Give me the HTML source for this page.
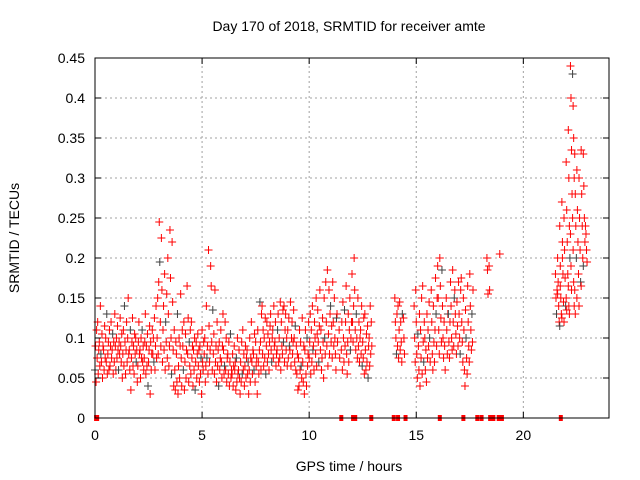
<!DOCTYPE html>
<html><head><meta charset="utf-8"><style>
body{margin:0;background:#fff}
svg{display:block;font-family:"Liberation Sans",sans-serif}
</style></head><body>
<svg id="chart" width="640" height="480" viewBox="0 0 640 480">
<text x="349" y="31" font-size="14" text-anchor="middle">Day 170 of 2018, SRMTID for receiver amte</text>
<text transform="translate(19,238) rotate(-90)" font-size="14" text-anchor="middle">SRMTID / TECUs</text>
<text x="349" y="471" font-size="14" text-anchor="middle">GPS time / hours</text>
<g id="grid"></g><g id="pts"></g>
<rect x="95" y="58" width="514" height="360" fill="none" stroke="#000" stroke-width="1"/>
<g id="ticks"></g>
</svg>
<script>
const xTicks=[0,5,10,15,20];
const yTicks=[0,0.05,0.1,0.15,0.2,0.25,0.3,0.35,0.4,0.45];
const segAStart=0.0;
const segA=[[60,90,45,110],[75,120,55,85],[95,65,140,80],[70,105,50,90],[85,60,115,75],[100,70,130,55],[80,95,60,110],[65,90,120,75],[85,105,55,95],[70,130,90,60],
[100,75,115,85],[60,95,80,125],[90,70,105,50],[80,110,65,140],[95,55,85,120],[70,100,150,80],[85,60,110,35],[75,95,125,65],[90,55,105,80],[100,70,85,45],
[65,95,120,80],[85,50,100,75],[110,70,90,60],[75,95,130,55],[90,65,105,40],[70,85,115,30],[95,60,80,110],[80,100,70,125],[60,90,140,75],[100,150,80,170],
[245,195,120,90],[225,160,70,110],[140,85,180,60],[120,95,155,75],[200,130,65,90],[235,175,100,55],[220,145,85,40],[110,60,35,95],[80,45,130,30],[65,100,50,90],
[155,75,40,110],[90,60,120,35],[70,105,50,85],[165,80,125,45],[95,65,110,55],[120,75,90,40],[85,60,100,35],[70,95,50,80],[105,65,85,45],[90,55,75,30],
[110,70,60,95],[80,100,45,65],[140,75,90,55],[210,115,70,85],[190,165,95,60],[135,80,105,55],[160,70,90,45],[120,65,85,40],[95,60,75,110],[70,50,90,130],
[85,55,65,120],[60,100,45,75],[80,55,95,40],[70,105,50,60],[55,80,40,65],[90,60,70,35],[75,45,100,55],[60,85,50,30],[70,45,95,55],[110,60,80,40],
[65,90,50,75],[85,55,70,30],[60,100,45,75],[120,70,55,85],[80,60,105,45],[95,65,75,30],[110,70,55,85],[145,95,60,130],[140,80,110,65],[100,75,125,55],
[90,120,70,105],[80,60,95,115],[130,85,70,100],[110,75,140,90],[95,120,65,80],[85,110,130,70],[100,75,145,60],[120,90,80,135],[95,140,70,110],[130,85,100,65],
[110,75,125,90],[85,145,65,100],[120,80,95,135],[100,70,115,60],[90,55,80,35],[75,40,110,60],[95,65,50,125],[70,45,90,30],[85,110,55,40],[100,65,80,120],
[75,95,130,55],[110,70,140,85],[90,60,120,100],[80,150,65,105],[135,95,70,115],[160,85,110,60],[75,125,95,50],[150,100,80,170],[120,90,185,65],[105,160,80,130],
[140,95,115,75],[170,120,90,150],[100,80,60,125],[130,95],[110,75],[85,120,60,145],[100,70,135,90],[120,165,80,55],[95,130,70,110],[150,85,100,120],
[180,120,95,140],[200,160,110,85],[130,100,75,150],[90,120,70,100],[110,80,140,65],[95,75,125,55],[130,85,60,105],[70,115,50,90],[100,65,140,80],[120,90]];
const segBTimes=[14.0,14.1,14.2,14.3,14.4,14.9,15.0,15.1,15.2,15.3,15.4,15.5,15.6,15.7,15.8,15.9,16.0,16.1,16.2,16.3,16.4,16.5,16.6,16.7,16.8,16.9,17.0,17.1,17.2,17.3,17.4,17.5,17.6,18.3,18.4,18.9];
const segB=[[150,120,100,80],[130,90,140,75],[110,145,85,120],[95,70,130],[125,100,80],[140,100,70,160],[120,80,50,105],[90,60,130,40],[110,75,150,55],[165,95,70,120],
[100,60,85,45],[130,75,110,90],[145,100,70],[160,120,80,60],[140,95,70,110],[175,130,90,150],[190,150,110,80],[200,165,125,95],[185,140,100,75],[120,90,60],
[150,110,80,130],[130,95,75,120],[170,140,100,85],[185,120,90,150],[160,130,105,80],[145,115,90,170],[130,100,80,160],[175,120,95,70],[150,110,60,40],[135,100,75,55],
[165,120,90,70],[180,140,110,85],[130,95,160],[200,185,155],[190,160],[205]];
const segCStart=21.5;
const segC=[[180,150,130,160],[200,170,140,120,155],[240,190,150,130,115,165],[270,220,180,145,125,200],[250,210,175,140,120],[320,260,220,180,150,135],
[360,300,240,200,165,140,130],[440,400,335,280,230,190,160],[430,390,350,300,250,210,170,140],[330,280,240,200,160,130],[310,260,220,180,150],
[300,250,210,170,140],[335,280,240,200,165],[330,290,250,220,190],[240,230,210,195]];
const zeroTimes=[0.05,0.1,11.5,12.05,12.15,12.9,13.95,14.15,14.5,16.1,17.2,17.85,18.05,18.45,18.6,18.85,19.0,21.75];

const NS="http://www.w3.org/2000/svg";
const X0=95,X1=609,Y0=418,Y1=58;
const xs=t=>X0+(t/24)*(X1-X0);
const ys=v=>Y0-(v/0.45)*(Y0-Y1);
function mk(tag,attrs,parent){const e=document.createElementNS(NS,tag);for(const k in attrs)e.setAttribute(k,attrs[k]);parent.appendChild(e);return e;}
const grid=document.getElementById('grid'),ticks=document.getElementById('ticks'),pts=document.getElementById('pts');
xTicks.forEach(t=>{const x=xs(t);
 if(t>0){const g=mk('line',{x1:x,x2:x,y1:Y0,y2:Y1,stroke:'#a0a0a0','stroke-dasharray':'2,3'},grid);
 
 }
 mk('line',{x1:x,x2:x,y1:Y0,y2:Y0-6,stroke:'#000'},ticks);
 mk('line',{x1:x,x2:x,y1:Y1,y2:Y1+6,stroke:'#000'},ticks);
 const l=mk('text',{x:x,y:Y0+22,'font-size':14,'text-anchor':'middle'},ticks);l.textContent=t;
 
 });
yTicks.forEach(v=>{const y=ys(v);
 if(v>0){const g=mk('line',{x1:X0,x2:X1,y1:y,y2:y,stroke:'#a0a0a0','stroke-dasharray':'2,3'},grid);
 
 }
 mk('line',{x1:X0,x2:X0+6,y1:y,y2:y,stroke:'#000'},ticks);
 mk('line',{x1:X1,x2:X1-6,y1:y,y2:y,stroke:'#000'},ticks);
 const l=mk('text',{x:X0-10,y:y+5,'font-size':14,'text-anchor':'end'},ticks);l.textContent=String(v);
 
 });
let idx=0;
function plus(t,v){const x=xs(t),y=ys(v);const c=(idx++%11===0)?'#404040':'#ff0000';
 const p=mk('path',{d:`M${x-4},${y}h8M${x},${y-4}v8`,stroke:c,'stroke-width':1,fill:'none'},pts);
 
 }
segA.forEach((b,i)=>b.forEach((v,j)=>plus(segAStart+i*0.1+j*0.025,v/1000)));
segB.forEach((b,i)=>b.forEach((v,j)=>plus(segBTimes[i]+j*0.025,v/1000)));
segC.forEach((b,i)=>b.forEach((v,j)=>plus(segCStart+i*0.1+(j%4)*0.025,v/1000)));
zeroTimes.forEach(t=>{const r=mk('rect',{x:xs(t)-2,y:Y0-3,width:4,height:6,fill:'#ff0000'},pts);
 
 });
</script>
</body></html>
